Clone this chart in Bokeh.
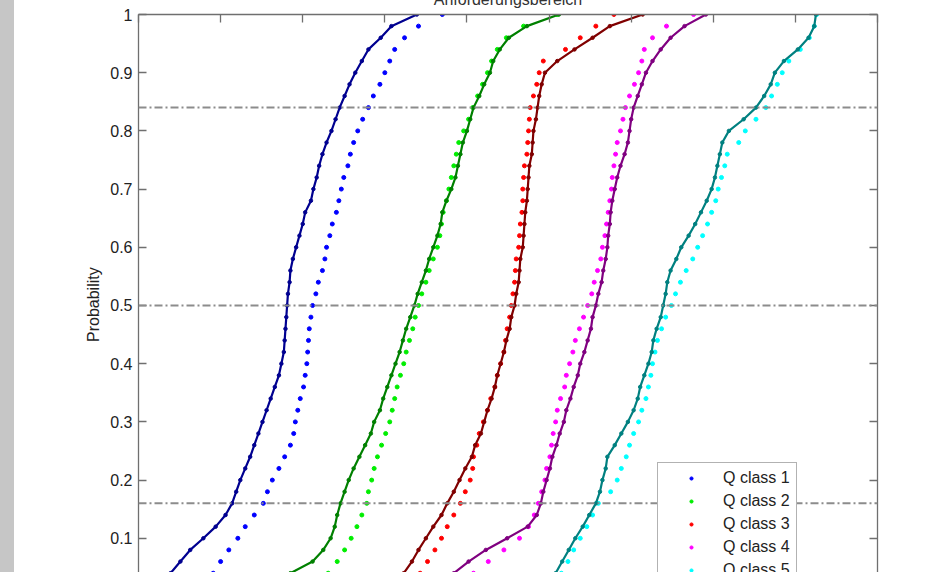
from bokeh.plotting import figure
from bokeh.models import Range1d, LinearAxis, FixedTicker, Span, Title, Legend, LegendItem, Div
from bokeh.layouts import row
from bokeh.embed import file_html
from bokeh.resources import INLINE

# ---------------- data ----------------
title_text = "Anforderungsbereich"
y_label = "Probability"
class_labels = ["Q class 1", "Q class 2", "Q class 3", "Q class 4", "Q class 5"]

prob = [0.04, 0.06, 0.08, 0.10, 0.12, 0.14, 0.16, 0.18, 0.20,
        0.22, 0.24, 0.26, 0.28, 0.30, 0.32, 0.34, 0.36, 0.38, 0.40,
        0.42, 0.44, 0.46, 0.48, 0.50, 0.52, 0.54, 0.56, 0.58, 0.60,
        0.62, 0.64, 0.66, 0.68, 0.70, 0.72, 0.74, 0.76, 0.78, 0.80,
        0.82, 0.84, 0.86, 0.88, 0.90, 0.92, 0.94, 0.96, 0.98, 1.00]

# light-coloured series (legend entries)
q1_a = [0.91, 1.00, 1.10, 1.21, 1.30, 1.41, 1.52, 1.57, 1.63,
        1.71, 1.78, 1.85, 1.89, 1.91, 1.94, 1.97, 2.01, 2.03, 2.05,
        2.06, 2.07, 2.08, 2.10, 2.12, 2.16, 2.19, 2.24, 2.27, 2.29,
        2.33, 2.36, 2.41, 2.44, 2.47, 2.50, 2.55, 2.58, 2.62, 2.67,
        2.73, 2.80, 2.86, 2.94, 3.00, 3.06, 3.12, 3.24, 3.41, 3.70]
q2_a = [2.31, 2.42, 2.51, 2.59, 2.66, 2.72, 2.78, 2.80, 2.84,
        2.87, 2.91, 2.96, 3.01, 3.06, 3.09, 3.12, 3.15, 3.19, 3.23,
        3.26, 3.30, 3.34, 3.37, 3.41, 3.45, 3.50, 3.54, 3.59, 3.64,
        3.67, 3.69, 3.71, 3.75, 3.78, 3.81, 3.84, 3.87, 3.90, 3.96,
        4.02, 4.07, 4.13, 4.19, 4.25, 4.30, 4.37, 4.48, 4.69, 5.10]
q3_a = [3.43, 3.52, 3.61, 3.69, 3.76, 3.84, 3.92, 3.98, 4.04,
        4.07, 4.08, 4.12, 4.15, 4.20, 4.25, 4.29, 4.34, 4.37, 4.41,
        4.45, 4.47, 4.49, 4.52, 4.54, 4.56, 4.58, 4.59, 4.60, 4.63,
        4.64, 4.65, 4.67, 4.68, 4.68, 4.69, 4.70, 4.73, 4.74, 4.75,
        4.76, 4.77, 4.81, 4.85, 4.88, 4.93, 5.20, 5.38, 5.57, 5.79]
q4_a = [4.08, 4.26, 4.45, 4.64, 4.75, 4.82, 4.87, 4.91, 4.95,
        4.97, 5.01, 5.03, 5.05, 5.08, 5.10, 5.14, 5.19, 5.21, 5.25,
        5.29, 5.32, 5.37, 5.42, 5.47, 5.52, 5.55, 5.59, 5.63, 5.65,
        5.68, 5.70, 5.72, 5.74, 5.76, 5.77, 5.79, 5.81, 5.83, 5.87,
        5.90, 5.93, 5.98, 6.04, 6.09, 6.13, 6.16, 6.26, 6.43, 6.76]
q5_a = [5.15, 5.23, 5.30, 5.38, 5.46, 5.53, 5.60, 5.75, 5.83,
        5.88, 5.94, 5.98, 6.03, 6.09, 6.13, 6.18, 6.21, 6.24, 6.26,
        6.29, 6.32, 6.37, 6.42, 6.49, 6.54, 6.60, 6.67, 6.75, 6.81,
        6.87, 6.93, 6.98, 7.03, 7.06, 7.10, 7.14, 7.17, 7.31, 7.39,
        7.52, 7.64, 7.71, 7.78, 7.84, 7.92, 8.06, 8.17, 8.23, 8.26]

# dark-coloured series
q1_b = [0.39, 0.51, 0.63, 0.79, 0.94, 1.06, 1.14, 1.19, 1.24,
        1.30, 1.36, 1.41, 1.46, 1.51, 1.56, 1.61, 1.66, 1.71, 1.74,
        1.77, 1.78, 1.79, 1.80, 1.81, 1.82, 1.84, 1.85, 1.88, 1.92,
        1.96, 2.00, 2.03, 2.10, 2.13, 2.17, 2.20, 2.24, 2.29, 2.35,
        2.40, 2.45, 2.51, 2.57, 2.64, 2.72, 2.80, 2.95, 3.08, 3.39]
q2_b = [1.85, 2.12, 2.25, 2.34, 2.39, 2.42, 2.46, 2.51, 2.56,
        2.62, 2.69, 2.76, 2.83, 2.87, 2.94, 2.98, 3.03, 3.08, 3.13,
        3.18, 3.22, 3.26, 3.31, 3.36, 3.40, 3.45, 3.50, 3.54, 3.59,
        3.64, 3.68, 3.70, 3.75, 3.81, 3.86, 3.89, 3.92, 3.95, 4.00,
        4.04, 4.08, 4.15, 4.21, 4.28, 4.32, 4.40, 4.51, 4.73, 5.12]
q3_b = [3.23, 3.33, 3.41, 3.50, 3.59, 3.69, 3.76, 3.84, 3.91,
        3.98, 4.06, 4.10, 4.17, 4.21, 4.25, 4.30, 4.34, 4.37, 4.41,
        4.45, 4.48, 4.52, 4.54, 4.58, 4.60, 4.63, 4.64, 4.65, 4.68,
        4.69, 4.70, 4.71, 4.73, 4.74, 4.75, 4.76, 4.79, 4.80, 4.81,
        4.84, 4.86, 4.88, 4.91, 4.95, 5.10, 5.31, 5.53, 5.74, 6.14]
q4_b = [3.84, 4.02, 4.23, 4.49, 4.74, 4.85, 4.90, 4.93, 4.97,
        5.01, 5.04, 5.09, 5.13, 5.18, 5.21, 5.26, 5.30, 5.35, 5.38,
        5.43, 5.47, 5.51, 5.53, 5.57, 5.60, 5.64, 5.66, 5.69, 5.71,
        5.72, 5.74, 5.75, 5.77, 5.80, 5.83, 5.87, 5.92, 5.96, 5.98,
        6.00, 6.03, 6.08, 6.13, 6.18, 6.26, 6.36, 6.48, 6.65, 6.91]
q5_b = [5.08, 5.16, 5.24, 5.32, 5.41, 5.49, 5.57, 5.62, 5.65,
        5.69, 5.71, 5.80, 5.88, 5.96, 6.03, 6.08, 6.11, 6.16, 6.21,
        6.25, 6.27, 6.31, 6.36, 6.39, 6.42, 6.44, 6.48, 6.55, 6.61,
        6.70, 6.78, 6.85, 6.92, 6.98, 7.02, 7.05, 7.08, 7.11, 7.19,
        7.37, 7.52, 7.62, 7.70, 7.75, 7.86, 8.03, 8.16, 8.23, 8.25]

light_series = [q1_a, q2_a, q3_a, q4_a, q5_a]
dark_series = [q1_b, q2_b, q3_b, q4_b, q5_b]
light_colors = ["#0000ff", "#00ee00", "#ff0000", "#ff00ff", "#00ffff"]
dark_colors = ["#000090", "#008000", "#800000", "#800080", "#008080"]

sigma_levels = [0.16, 0.50, 0.84]
x_ticks = [0, 1, 2, 3, 4, 5, 6, 7, 8, 9]
y_ticks = [0.1, 0.2, 0.3, 0.4, 0.5, 0.6, 0.7, 0.8, 0.9, 1.0]
y_tick_labels = ["0.1", "0.2", "0.3", "0.4", "0.5", "0.6", "0.7", "0.8", "0.9", "1"]

# ---------------- figure ----------------
FONT = "Liberation Sans"
AX = "#6f6f6f"

p = figure(width=938, height=572, x_range=Range1d(0, 9), y_range=Range1d(0.0412, 1.0),
           output_backend="svg", toolbar_location=None, x_axis_location="above",
           min_border_left=124, min_border_right=75, min_border_top=14, min_border_bottom=0,
           background_fill_color="white", border_fill_color="white", outline_line_color=None)
p.xgrid.visible = False
p.ygrid.visible = False


def style_axis(ax, ticks, labels, size, standoff):
    ax.ticker = FixedTicker(ticks=ticks)
    ax.axis_line_color = AX
    ax.axis_line_width = 1.3
    ax.major_tick_line_color = AX
    ax.major_tick_line_width = 1.3
    ax.major_tick_in = 8
    ax.major_tick_out = 0
    ax.minor_tick_line_color = None
    ax.major_label_text_font = FONT
    ax.major_label_text_color = "#222222"
    ax.major_label_overrides = {t: s for t, s in zip(ticks, labels)}
    ax.major_label_text_font_size = size
    ax.major_label_standoff = standoff


# top axis: ticks only (blank labels keep a small band for the cropped title)
style_axis(p.xaxis[0], x_ticks, [" " for _ in x_ticks], "1px", 10)
style_axis(p.yaxis[0], y_ticks, y_tick_labels, "16px", 6)
ya = p.yaxis[0]
ya.axis_label = y_label + "\u00a0" * 5
ya.axis_label_text_font = FONT
ya.axis_label_text_font_size = "16px"
ya.axis_label_text_font_style = "normal"
ya.axis_label_text_color = "#222222"
ya.axis_label_standoff = 5

ra = LinearAxis()
style_axis(ra, y_ticks, ["" for _ in y_ticks], "1px", 0)
p.add_layout(ra, "right")

# title sits mostly above the top edge, as in the cropped reference
p.add_layout(Title(text=title_text, align="center", vertical_align="top", standoff=-20,
                   text_font=FONT, text_font_size="16px", text_font_style="normal",
                   text_color="#333333"), "above")

for lv in sigma_levels:
    p.add_layout(Span(location=lv, dimension="width", line_color="#8c8c8c",
                      line_dash="8 3 2 3", line_width=2))

items = []
for xs, c, lab in zip(light_series, light_colors, class_labels):
    r = p.scatter(xs, prob, size=4, color=c, line_color=c)
    items.append(LegendItem(label=lab, renderers=[r]))

for xs, c in zip(dark_series, dark_colors):
    p.line(xs, prob, line_width=2.2, color=c)
    p.scatter(xs, prob, size=3.5, color=c, line_color=c)

legend = Legend(items=items, location=(519, -14), orientation="vertical",
                padding=6, margin=0, spacing=5, glyph_width=54, glyph_height=8,
                label_height=16, label_standoff=5,
                label_text_font=FONT, label_text_font_size="16px", label_text_color="#222222",
                border_line_color="#666666", border_line_width=1,
                background_fill_color="white", background_fill_alpha=1.0)
p.add_layout(legend, "center")

strip = Div(text="", width=14, height=572, margin=0,
            styles={"background-color": "#c6c6c6"})

layout = row(strip, p)

open("out.html", "w").write(file_html(layout, INLINE))
